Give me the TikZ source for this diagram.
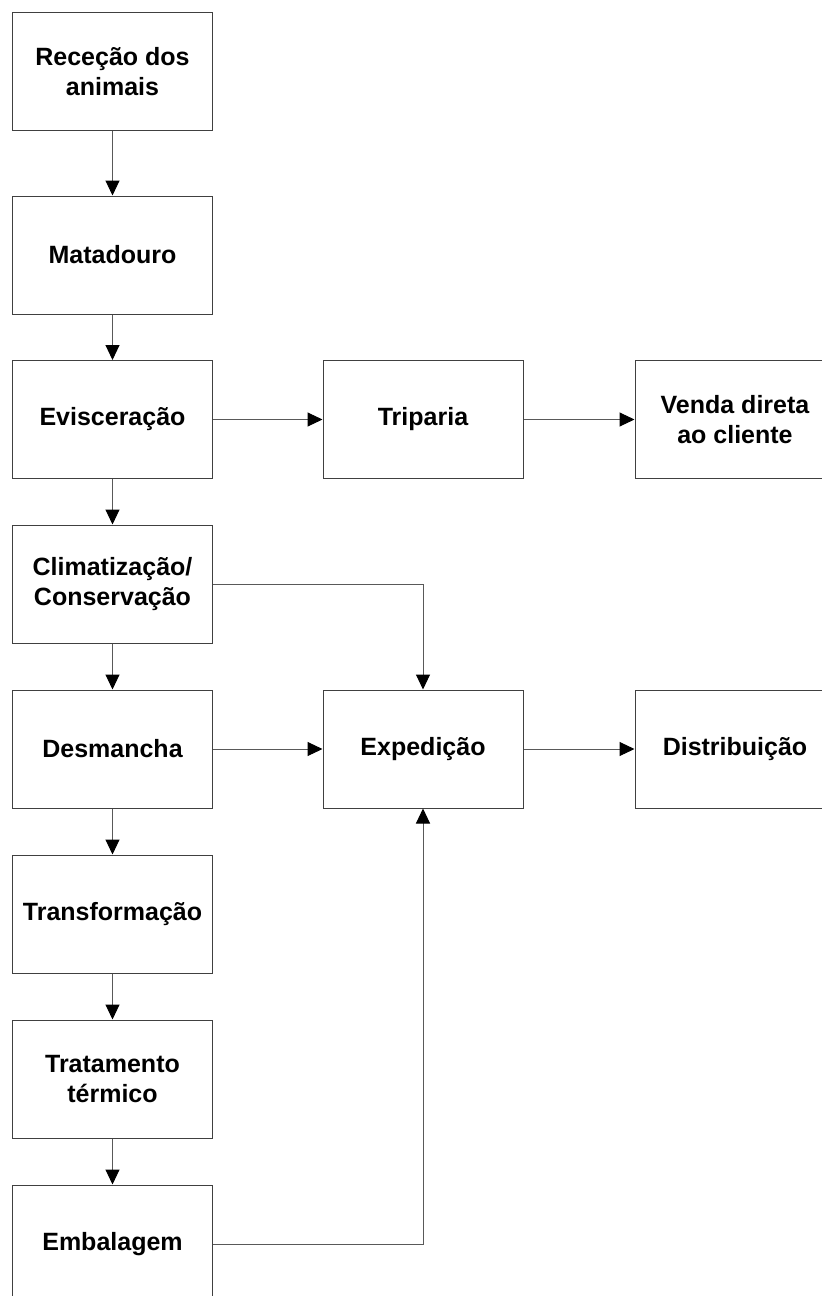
\documentclass[tikz,border=0pt]{standalone}
\usepackage{fontspec}
\setmainfont{Liberation Sans}
\usetikzlibrary{positioning}
\usetikzlibrary{arrows.meta}

\tikzset{
  etapa/.style={draw=black!75, line width=1pt, fill=white,
    minimum width=200pt, minimum height=118pt, inner sep=0pt,
    align=center, font=\fontsize{25}{30}\selectfont\bfseries},
  seta/.style={draw=black!65, line width=1pt,
    -{Triangle[width=14pt,length=15pt,color=black]}}
}

\begin{document}
\begin{tikzpicture}[x=1pt,y=-1pt]
       \useasboundingbox (0,0) rectangle (822,1296);
       \clip (0,0) rectangle (822,1296);
       % coluna da esquerda
       \node[etapa] (rececao) at (112.5,71.5) {Receção dos\\animais};
       \node[etapa] (matadouro) at (112.5,255) {Matadouro};
       \node[etapa] (evisceracao) at (112.5,419.5) {Evisceração};
       \node[etapa] (climatizacao) at (112.5,584) {Climatização/\\Conservação};
       \node[etapa] (desmancha) at (112.5,749) {Desmancha};
       \node[etapa] (transformacao) at (112.5,914) {Transformação};
       \node[etapa] (tratamento) at (112.5,1079) {Tratamento\\térmico};
       \node[etapa] (embalagem) at (112.5,1244) {Embalagem};
       % outras colunas
       \node[etapa] (triparia) at (423,419.5) {Triparia};
       \node[etapa] (venda) at (735,419.5) {Venda direta\\ao cliente};
       \node[etapa] (expedicao) at (423,749) {Expedição};
       \node[etapa] (distribuicao) at (735,749) {Distribuição};
       % ligacoes
       \draw[seta] (rececao) -- (matadouro);
       \draw[seta] (matadouro) -- (evisceracao);
       \draw[seta] (evisceracao) -- (climatizacao);
       \draw[seta] (climatizacao) -- (desmancha);
       \draw[seta] (desmancha) -- (transformacao);
       \draw[seta] (transformacao) -- (tratamento);
       \draw[seta] (tratamento) -- (embalagem);
       \draw[seta] (evisceracao) -- (triparia);
       \draw[seta] (triparia) -- (venda);
       \draw[seta] (climatizacao.east) -| (expedicao.north);
       \draw[seta] (desmancha) -- (expedicao);
       \draw[seta] (embalagem.east) -| (expedicao.south);
       \draw[seta] (expedicao) -- (distribuicao);
\end{tikzpicture}
\end{document}
